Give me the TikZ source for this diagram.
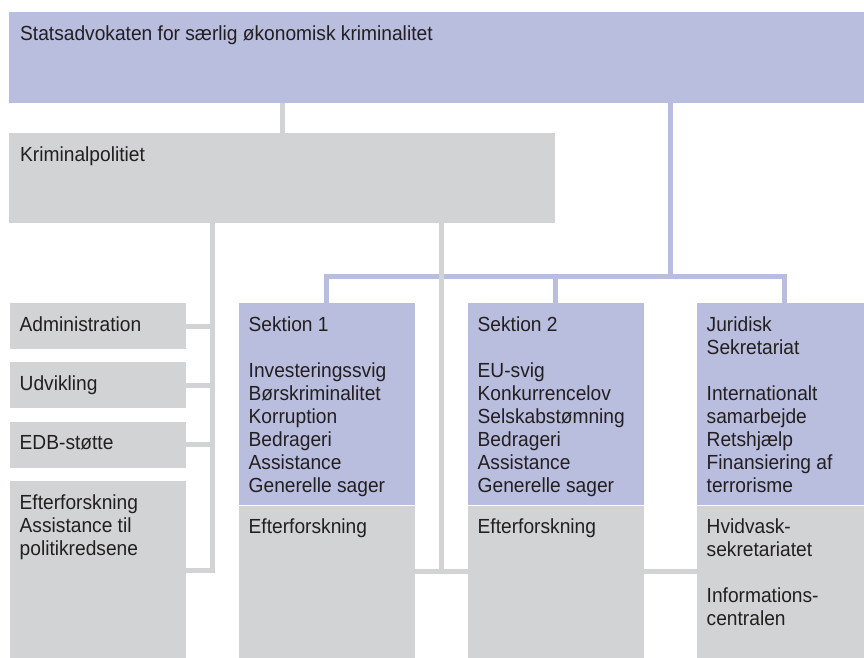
\documentclass[tikz,border=0pt]{standalone}
\usepackage{fontspec}
\setmainfont[FakeStretch=0.94]{Liberation Sans}
\usetikzlibrary{backgrounds}

\definecolor{orglilla}{HTML}{B9BDDE}
\definecolor{orggraa}{HTML}{D1D3D4}
\definecolor{orgtekst}{HTML}{231F20}

\tikzset{
  box/.style={rectangle, inner sep=0pt, anchor=north west, minimum width=176.5pt},
  lillabox/.style={box, fill=orglilla},
  graabox/.style={box, fill=orggraa},
  txt/.style={inner sep=0pt, anchor=north west, align=left, text=orgtekst,
    font=\fontsize{20.4}{23}\selectfont},
  glink/.style={draw=orggraa, line width=5pt},
  plink/.style={draw=orglilla, line width=5pt},
}

\begin{document}
\begin{tikzpicture}[x=1pt, y=-1pt]
  \useasboundingbox (0,0) rectangle (864,657);

  \node[lillabox, minimum width=870pt, minimum height=90.7pt] (stats) at (9,12) {};
  \node[txt] (stats-t) at ([shift={(11,13.5)}]stats.north west)
    {Statsadvokaten for særlig økonomisk kriminalitet};

  \node[graabox, minimum width=546pt, minimum height=90pt] (kp) at (9,133) {};
  \node[txt] (kp-t) at ([shift={(11,13.5)}]kp.north west) {Kriminalpolitiet};

  % staben til venstre
  \node[graabox, minimum height=46pt] (admin) at (9.5,303) {};
  \node[txt] (admin-t) at ([shift={(10,13.5)}]admin.north west) {Administration};
  \node[graabox, minimum height=46pt] (udv) at (9.5,362) {};
  \node[txt] (udv-t) at ([shift={(10,13.5)}]udv.north west) {Udvikling};
  \node[graabox, minimum height=45.5pt] (edb) at (9.5,422) {};
  \node[txt] (edb-t) at ([shift={(10,13.5)}]edb.north west) {EDB-støtte};
  \node[graabox, minimum height=180pt] (eft) at (9.5,481) {};
  \node[txt] (eft-t) at ([shift={(10,13.5)}]eft.north west)
    {Efterforskning\\Assistance til\\politikredsene};

  % sektionerne
  \node[lillabox, minimum height=202pt] (sek1) at (238.5,303) {};
  \node[graabox, minimum height=160pt] (sek1b) at (sek1.south west) {};
  \node[txt] (sek1-t) at ([shift={(10,13.5)}]sek1.north west)
    {Sektion 1\\[23pt]Investeringssvig\\Børskriminalitet\\Korruption\\Bedrageri\\Assistance\\Generelle sager};
  \node[txt] (sek1b-t) at ([shift={(10,13.5)}]sek1b.north west) {Efterforskning};

  \node[lillabox, minimum height=202pt] (sek2) at (467.5,303) {};
  \node[graabox, minimum height=160pt] (sek2b) at (sek2.south west) {};
  \node[txt] (sek2-t) at ([shift={(10,13.5)}]sek2.north west)
    {Sektion 2\\[23pt]EU-svig\\Konkurrencelov\\Selskabstømning\\Bedrageri\\Assistance\\Generelle sager};
  \node[txt] (sek2b-t) at ([shift={(10,13.5)}]sek2b.north west) {Efterforskning};

  \node[lillabox, minimum height=202pt] (jur) at (696.5,303) {};
  \node[graabox, minimum height=160pt] (jurb) at (jur.south west) {};
  \node[txt] (jur-t) at ([shift={(10,13.5)}]jur.north west)
    {Juridisk\\Sekretariat\\[23pt]Internationalt\\samarbejde\\Retshjælp\\Finansiering af\\terrorisme};
  \node[txt] (jurb-t) at ([shift={(10,13.5)}]jurb.north west)
    {Hvidvask-\\sekretariatet\\[23pt]Informations-\\centralen};

  \begin{scope}[on background layer]
    \coordinate (phub) at (670,276.5);
    \coordinate (lbus) at (212,570.5);
    \coordinate (mbus) at (441,571);

    \draw[glink] (stats.south -| kp.north) -- (kp.north);
    \draw[plink] (stats.south -| phub) -- (phub);
    \draw[plink] (sek1.north) |- (phub) -| (jur.north);
    \draw[plink] (sek2.north |- phub) -- (sek2.north);

    \draw[glink] (kp.south -| lbus) -- (lbus) -- (eft.east |- lbus);
    \draw[glink] (admin.east) -- (admin.east -| lbus);
    \draw[glink] (udv.east) -- (udv.east -| lbus);
    \draw[glink] (edb.east) -- (edb.east -| lbus);

    \draw[glink] (kp.south -| mbus) -- (mbus);
    \draw[glink] (sek1b.east |- mbus) -- (jurb.west |- mbus);
  \end{scope}
\end{tikzpicture}
\end{document}
